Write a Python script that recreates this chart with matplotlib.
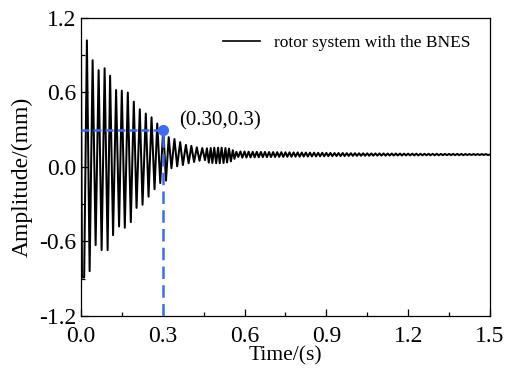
import matplotlib
matplotlib.use("Agg")
import matplotlib.pyplot as plt
from matplotlib.ticker import MultipleLocator

# ---- data ----
# alternating extremes of the transient (time s, amplitude mm)
head_t = [0.000, 0.004, 0.012, 0.022, 0.032, 0.043, 0.054, 0.065, 0.076, 0.087,
          0.098, 0.107, 0.118, 0.129, 0.140, 0.150, 0.161, 0.172, 0.183, 0.194,
          0.204, 0.216, 0.226, 0.238, 0.248, 0.259, 0.270, 0.280, 0.291, 0.302,
          0.312, 0.322, 0.332, 0.343, 0.353, 0.364, 0.374, 0.385, 0.395, 0.405,
          0.415, 0.425, 0.435, 0.445, 0.455, 0.462, 0.469, 0.476, 0.482, 0.489,
          0.496, 0.503, 0.509, 0.516, 0.523, 0.530, 0.536, 0.543, 0.550, 0.557,
          0.563, 0.570, 0.577]
head_v = [1.10, -0.89, -0.89, 1.02, -0.84, 0.86, -0.63, 0.78, -0.67, 0.795,
          -0.67, 0.735, -0.55, 0.62, -0.48, 0.615, -0.49, 0.60, -0.445, 0.526,
          -0.33, 0.465, -0.305, 0.43, -0.24, 0.40, -0.18, 0.35, -0.13, 0.31,
          -0.11, 0.24, -0.01, 0.225, 0.005, 0.20, 0.016, 0.178, 0.03, 0.17,
          0.04, 0.158, 0.05, 0.152, 0.055, 0.150, 0.035, 0.152, 0.032, 0.155,
          0.030, 0.155, 0.030, 0.155, 0.032, 0.152, 0.036, 0.148, 0.045, 0.135,
          0.065, 0.122, 0.080]

# small steady ripples: crest times/values and trough times/values
tail_hi_t = [0.585, 0.600, 0.615, 0.630, 0.645, 0.660, 0.675, 0.690, 0.705, 0.720,
             0.735, 0.750, 0.765, 0.780, 0.795, 0.810, 0.825, 0.840, 0.855, 0.870,
             0.885, 0.900, 0.915, 0.930, 0.945, 0.960, 0.975, 0.990, 1.005, 1.020,
             1.035, 1.050, 1.065, 1.080, 1.095, 1.110, 1.125, 1.140, 1.155, 1.170,
             1.185, 1.200, 1.215, 1.230, 1.245, 1.260, 1.275, 1.290, 1.305, 1.320,
             1.335, 1.350, 1.365, 1.380, 1.395, 1.410, 1.425, 1.440, 1.455, 1.470,
             1.485]
tail_hi = [0.125, 0.124, 0.123, 0.122, 0.122, 0.121,
           0.121, 0.120, 0.120, 0.119, 0.119, 0.118, 0.118, 0.117, 0.117, 0.116,
           0.116, 0.115, 0.115, 0.114,
           0.114, 0.113, 0.113, 0.112, 0.112, 0.112, 0.111, 0.111, 0.111, 0.110,
           0.110, 0.110, 0.109, 0.109, 0.109, 0.109, 0.108, 0.108, 0.108, 0.108,
           0.107, 0.107, 0.107, 0.107, 0.106, 0.106, 0.106, 0.106, 0.106, 0.105,
           0.105, 0.105, 0.105, 0.105, 0.105, 0.104, 0.104, 0.104, 0.104, 0.104,
           0.104]
tail_lo_t = [0.592, 0.607, 0.622, 0.637, 0.652, 0.667, 0.682, 0.697, 0.712, 0.727,
             0.742, 0.757, 0.772, 0.787, 0.802, 0.817, 0.832, 0.847, 0.862, 0.877,
             0.892, 0.907, 0.922, 0.937, 0.952, 0.967, 0.982, 0.997, 1.012, 1.027,
             1.042, 1.057, 1.072, 1.087, 1.102, 1.117, 1.132, 1.147, 1.162, 1.177,
             1.192, 1.207, 1.222, 1.237, 1.252, 1.267, 1.282, 1.297, 1.312, 1.327,
             1.342, 1.357, 1.372, 1.387, 1.402, 1.417, 1.432, 1.447, 1.462, 1.477,
             1.492]
tail_lo = [0.075, 0.076, 0.077, 0.078, 0.078, 0.079,
           0.079, 0.080, 0.080, 0.081, 0.081, 0.082, 0.082, 0.083, 0.083, 0.084,
           0.084, 0.085, 0.085, 0.086,
           0.086, 0.087, 0.087, 0.088, 0.088, 0.088, 0.089, 0.089, 0.089, 0.090,
           0.090, 0.090, 0.091, 0.091, 0.091, 0.091, 0.092, 0.092, 0.092, 0.092,
           0.093, 0.093, 0.093, 0.093, 0.094, 0.094, 0.094, 0.094, 0.094, 0.095,
           0.095, 0.095, 0.095, 0.095, 0.095, 0.096, 0.096, 0.096, 0.096, 0.096,
           0.096]
end_t, end_v = 1.5, 0.10

marked_t, marked_v = 0.30, 0.30
marked_label = "(0.30,0.3)"
legend_label = "rotor system with the BNES"
x_ticks = [0.0, 0.3, 0.6, 0.9, 1.2, 1.5]
y_ticks = [-1.2, -0.6, 0.0, 0.6, 1.2]

# ---- assemble trace ----
t = list(head_t)
v = list(head_v)
for a, b, c, d in zip(tail_hi_t, tail_hi, tail_lo_t, tail_lo):
    t += [a, c]
    v += [b, d]
t.append(end_t)
v.append(end_v)

plt.rcParams['font.family'] = ['Liberation Serif', 'DejaVu Serif']

fig = plt.figure(figsize=(5.12, 3.76), dpi=100)
ax = fig.add_axes([0.158, 0.160, 0.799, 0.792])

blue = '#3a6cf4'
ax.plot(t, v, color='black', lw=1.45, label=legend_label, zorder=3)
ax.plot([0, marked_t], [marked_v, marked_v], color=blue, lw=1.8,
        ls=(0, (3.2, 1.6)), zorder=4)
ax.plot([marked_t, marked_t], [-1.2, marked_v], color=blue, lw=1.8,
        ls=(0, (5, 2.5)), zorder=4)
ax.plot([marked_t], [marked_v], 'o', color=blue, ms=7, zorder=5)
ax.text(0.36, 0.37, marked_label, fontsize=15, ha='left', va='center')

ax.set_xlim(0, 1.5)
ax.set_ylim(-1.2, 1.2)
ax.set_xticks(x_ticks)
ax.set_yticks(y_ticks)
ax.xaxis.set_minor_locator(MultipleLocator(0.15))
ax.yaxis.set_minor_locator(MultipleLocator(0.3))
ax.set_xticklabels([f"{x:.1f}" for x in x_ticks])
ax.set_yticklabels([f"{y:.1f}" for y in y_ticks])
ax.tick_params(axis='both', which='both', direction='in', top=False, right=False,
               labelsize=17)
ax.tick_params(axis='x', pad=7)
ax.tick_params(axis='y', pad=3)
ax.tick_params(which='major', length=5, width=0.9)
ax.tick_params(which='minor', length=3, width=0.9)
for s in ax.spines.values():
    s.set_linewidth(0.9)

ax.set_xlabel("Time/(s)", fontsize=15.5, labelpad=0)
ax.set_ylabel("Amplitude/(mm)", fontsize=17)
ax.yaxis.set_label_coords(-0.118, 0.465)

leg = ax.legend(loc='upper right', frameon=False, fontsize=12.5,
                handlelength=2.1, handletextpad=0.8,
                bbox_to_anchor=(0.99, 0.995))
for line in leg.get_lines():
    line.set_linewidth(1.2)

fig.savefig("out.png", dpi=100)
